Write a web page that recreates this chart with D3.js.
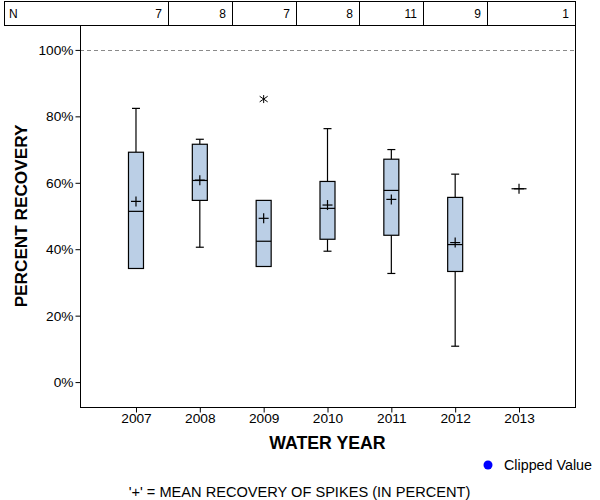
<!DOCTYPE html>
<html>
<head>
<meta charset="utf-8">
<script src="https://cdn.jsdelivr.net/npm/d3@7"></script>
<style>
  html, body { margin: 0; padding: 0; background: #fff; }
  svg { display: block; }
  text { font-family: "Liberation Sans", Arial, sans-serif; }
</style>
</head>
<body>
<svg id="chart" width="600" height="500"></svg>
<script>
// ---- data ----
const years       = ["2007", "2008", "2009", "2010", "2011", "2012", "2013"];
const nCounts     = [7, 8, 7, 8, 11, 9, 1];
const whiskerLow  = [34.2, 40.6, 34.8, 39.4, 32.7, 10.8, 58.2];
const q1          = [34.2, 54.7, 34.8, 43.0, 44.2, 33.3, 58.2];
const medians     = [51.4, 60.7, 42.4, 52.3, 57.7, 41.4, 58.2];
const q3          = [69.2, 71.6, 54.7, 60.4, 67.1, 55.6, 58.2];
const whiskerHigh = [82.4, 73.1, 54.7, 76.3, 70.0, 62.6, 58.2];
const means       = [54.4, 60.8, 49.3, 53.3, 55.0, 42.0, 58.2];
const outlierYears  = ["2009"];
const outlierValues = [85.2];
const yTicks = [0, 20, 40, 60, 80, 100];
const referenceValue = 100;

// ---- layout ----
const svg = d3.select("#chart");
const pLeft = 80, pRight = 575, pTop = 25, pBottom = 407;

const x = d3.scalePoint().domain(years).range([pLeft, pRight]).padding(0.877);
const y = d3.scaleLinear().domain([-7.5, 107.5]).range([pBottom, pTop]);
const step = x.step();

// ---- N table ----
const table = svg.append("g");
table.append("rect").attr("x", 4.5).attr("y", 1.5).attr("width", pRight - 4).attr("height", pTop - 1)
  .attr("fill", "none").attr("stroke", "#000");
years.slice(0, -1).forEach(yr => {
  const xd = Math.round(x(yr) + step / 2) + 0.5;
  table.append("line").attr("x1", xd).attr("x2", xd).attr("y1", 1.5).attr("y2", pTop + 0.5).attr("stroke", "#000");
});
table.append("text").attr("x", 9).attr("y", 18).attr("font-size", 12).text("N");
years.forEach((yr, i) => {
  const xr = (i === years.length - 1) ? pRight : Math.round(x(yr) + step / 2);
  table.append("text").attr("x", xr - 6).attr("y", 18).attr("font-size", 12)
    .attr("text-anchor", "end").text(nCounts[i]);
});

// ---- frame ----
svg.append("line").attr("x1", pRight + 0.5).attr("x2", pRight + 0.5).attr("y1", pTop).attr("y2", pBottom + 0.5).attr("stroke", "#000");

// reference line
const ry = Math.round(y(referenceValue)) + 0.5;
svg.append("line").attr("x1", pLeft).attr("x2", pRight).attr("y1", ry).attr("y2", ry)
  .attr("stroke", "#8a8a8a").attr("stroke-dasharray", "4,3");

// axes
const yAxis = d3.axisLeft(y).tickValues(yTicks).tickFormat(d => d + "%").tickSize(5).tickSizeOuter(0).tickPadding(2);
const gy = svg.append("g").attr("transform", `translate(${pLeft + 0.5},0)`).call(yAxis);
gy.selectAll("text").attr("font-size", 13.7).attr("font-family", "Liberation Sans, Arial, sans-serif").attr("fill", "#000");
gy.select(".domain").attr("d", `M0,${pTop}V${pBottom + 0.5}`);

const xAxis = d3.axisBottom(x).tickSize(5).tickSizeOuter(0).tickPadding(1);
const gx = svg.append("g").attr("transform", `translate(0,${pBottom + 0.5})`).call(xAxis);
gx.selectAll("text").attr("font-size", 13.7).attr("font-family", "Liberation Sans, Arial, sans-serif").attr("fill", "#000");
gx.select(".domain").attr("d", `M${pLeft},0H${pRight + 1}`);

// ---- boxes ----
const boxW = 15, capW = 8, plusH = 5;
const g = svg.append("g").attr("stroke", "#000").attr("stroke-width", 1.2);
years.forEach((yr, i) => {
  const cx = x(yr);
  if (whiskerHigh[i] > q3[i]) {
    g.append("line").attr("x1", cx).attr("x2", cx).attr("y1", y(q3[i])).attr("y2", y(whiskerHigh[i]));
    g.append("line").attr("x1", cx - capW / 2).attr("x2", cx + capW / 2).attr("y1", y(whiskerHigh[i])).attr("y2", y(whiskerHigh[i]));
  }
  if (whiskerLow[i] < q1[i]) {
    g.append("line").attr("x1", cx).attr("x2", cx).attr("y1", y(q1[i])).attr("y2", y(whiskerLow[i]));
    g.append("line").attr("x1", cx - capW / 2).attr("x2", cx + capW / 2).attr("y1", y(whiskerLow[i])).attr("y2", y(whiskerLow[i]));
  }
  if (q3[i] > q1[i]) {
    g.append("rect").attr("x", cx - boxW / 2).attr("y", y(q3[i])).attr("width", boxW)
      .attr("height", y(q1[i]) - y(q3[i])).attr("fill", "#bbcfe6");
  }
  g.append("line").attr("x1", cx - boxW / 2).attr("x2", cx + boxW / 2).attr("y1", y(medians[i])).attr("y2", y(medians[i]));
  const my = y(means[i]);
  g.append("line").attr("x1", cx - 5).attr("x2", cx + 5).attr("y1", my).attr("y2", my);
  g.append("line").attr("x1", cx).attr("x2", cx).attr("y1", my - plusH).attr("y2", my + plusH);
});

// outliers (asterisk)
outlierYears.forEach((yr, i) => {
  const cx = x(yr), cy = y(outlierValues[i]);
  const s = 4;
  svg.append("path")
    .attr("d", `M${cx},${cy - s}V${cy + s}M${cx - s},${cy - s * 0.7}L${cx + s},${cy + s * 0.7}M${cx - s},${cy + s * 0.7}L${cx + s},${cy - s * 0.7}`)
    .attr("stroke", "#000").attr("stroke-width", 1).attr("fill", "none");
});

// ---- titles ----
svg.append("text").attr("x", (pLeft + pRight) / 2).attr("y", 449).attr("text-anchor", "middle")
  .attr("font-size", 17.7).attr("font-weight", "bold").text("WATER YEAR");
svg.append("text").attr("transform", `translate(27,${(pTop + pBottom) / 2}) rotate(-90)`).attr("text-anchor", "middle")
  .attr("font-size", 17.2).attr("font-weight", "bold").text("PERCENT RECOVERY");

// legend
svg.append("circle").attr("cx", 488).attr("cy", 465).attr("r", 4.5).attr("fill", "#0000ff");
svg.append("text").attr("x", 504).attr("y", 470).attr("font-size", 14.3).text("Clipped Value");

// footnote
svg.append("text").attr("x", 299.5).attr("y", 497).attr("text-anchor", "middle").attr("font-size", 14.6)
  .text("'+' = MEAN RECOVERY OF SPIKES (IN PERCENT)");
</script>
</body>
</html>
